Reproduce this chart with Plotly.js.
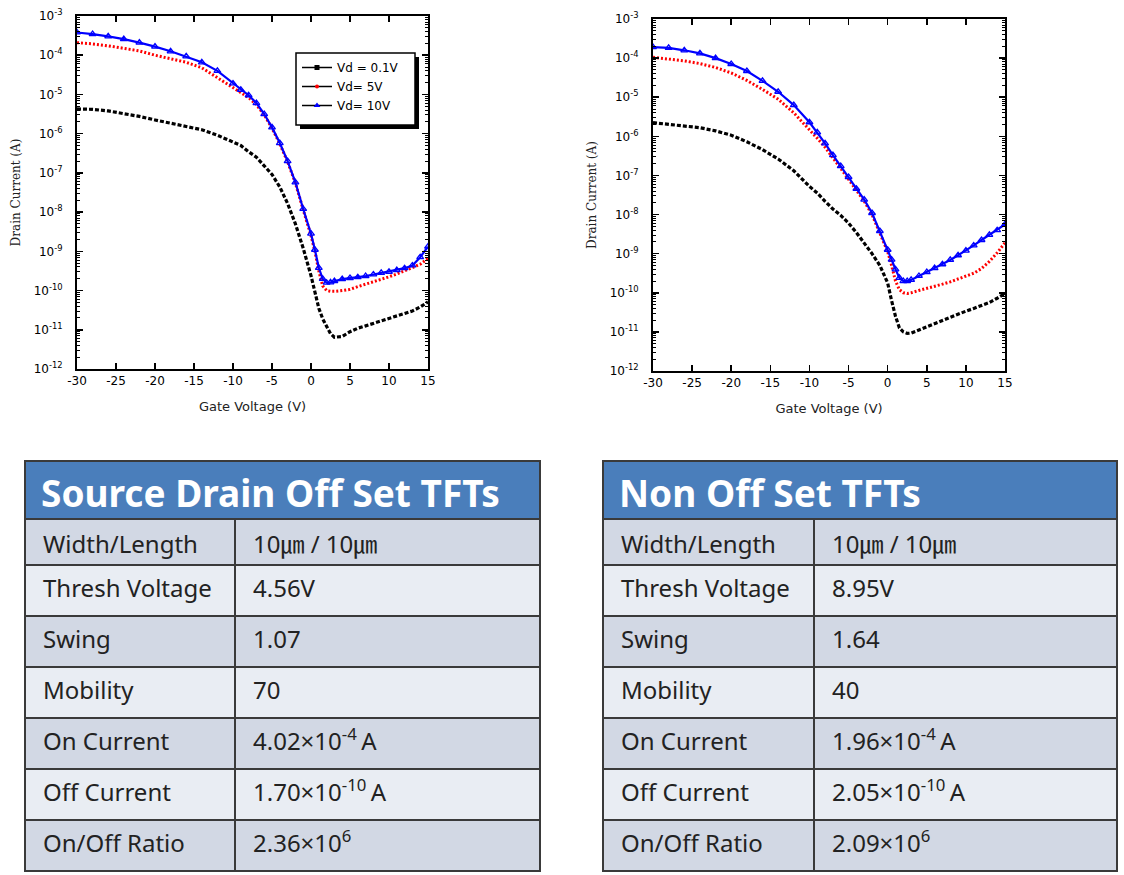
<!DOCTYPE html>
<html>
<head>
<meta charset="utf-8">
<script src="https://cdn.plot.ly/plotly-3.0.1.min.js"></script>
<style>
html,body{margin:0;padding:0;background:#fff;}
#chart{width:1124px;height:875px;}
</style>
</head>
<body>
<div id="chart"></div>
<script>
// ---------- DATA ----------
// Gate voltage grid (V)
const gateV = [-30,-28,-26,-24,-22,-20,-18,-16,-14,-12,-10,-9,-8,-7,-6,-5,-4,-3,-2,-1,0,0.5,1,1.5,2,2.5,3,4,5,6,7,8,9,10,11,12,13,14,15];

// Source Drain Off Set TFTs: log10 of drain current (A)
const sdExpVd01 = [-5.37,-5.38,-5.42,-5.48,-5.56,-5.65,-5.73,-5.81,-5.90,-6.04,-6.20,-6.30,-6.46,-6.60,-6.82,-7.04,-7.36,-7.78,-8.30,-8.92,-9.62,-10.02,-10.45,-10.72,-10.93,-11.10,-11.19,-11.17,-11.05,-10.96,-10.90,-10.84,-10.78,-10.72,-10.66,-10.59,-10.52,-10.42,-10.29];
const sdExpVd5  = [-3.68,-3.71,-3.76,-3.82,-3.89,-4.00,-4.09,-4.18,-4.32,-4.57,-4.84,-4.96,-5.08,-5.26,-5.52,-5.86,-6.26,-6.72,-7.26,-7.94,-8.60,-9.00,-9.50,-9.88,-10.00,-10.02,-10.02,-10.00,-9.97,-9.90,-9.84,-9.78,-9.71,-9.65,-9.58,-9.50,-9.43,-9.33,-9.18];
const sdExpVd10 = [-3.42,-3.46,-3.52,-3.59,-3.68,-3.78,-3.90,-4.03,-4.18,-4.40,-4.72,-4.88,-5.02,-5.22,-5.50,-5.84,-6.24,-6.70,-7.24,-7.92,-8.55,-8.96,-9.42,-9.70,-9.80,-9.79,-9.76,-9.71,-9.68,-9.66,-9.63,-9.59,-9.55,-9.52,-9.48,-9.43,-9.36,-9.15,-8.88];

// Non Off Set TFTs: log10 of drain current (A)
const noExpVd01 = [-5.65,-5.69,-5.72,-5.78,-5.86,-5.97,-6.14,-6.34,-6.58,-6.88,-7.28,-7.45,-7.66,-7.86,-8.02,-8.22,-8.46,-8.72,-9.00,-9.30,-9.75,-10.20,-10.60,-10.90,-11.00,-11.04,-11.03,-10.95,-10.87,-10.78,-10.70,-10.61,-10.54,-10.47,-10.40,-10.33,-10.25,-10.14,-10.02];
const noExpVd5  = [-3.98,-4.02,-4.07,-4.14,-4.24,-4.38,-4.57,-4.80,-5.05,-5.40,-5.82,-6.05,-6.28,-6.54,-6.82,-7.10,-7.38,-7.66,-8.00,-8.46,-8.95,-9.30,-9.70,-9.92,-10.00,-10.02,-10.00,-9.94,-9.89,-9.83,-9.78,-9.72,-9.65,-9.58,-9.50,-9.38,-9.20,-8.98,-8.72];
const noExpVd10 = [-3.72,-3.74,-3.80,-3.88,-4.00,-4.15,-4.33,-4.58,-4.86,-5.20,-5.64,-5.90,-6.18,-6.48,-6.76,-7.04,-7.34,-7.62,-7.96,-8.42,-8.90,-9.15,-9.40,-9.62,-9.70,-9.70,-9.67,-9.57,-9.47,-9.37,-9.27,-9.16,-9.04,-8.92,-8.79,-8.65,-8.52,-8.40,-8.25];

const seriesNames = ['Vd = 0.1V', 'Vd= 5V', 'Vd= 10V'];
const xTickVals = [-30,-25,-20,-15,-10,-5,0,5,10,15];
const xTickText = ['-30','-25','-20','-15','-10','-5','0','5','10','15'];
const yTickExps = [-12,-11,-10,-9,-8,-7,-6,-5,-4,-3];

// Tables
const tableParams = ['Width/Length','Thresh Voltage','Swing','Mobility','On Current','Off Current','On/Off Ratio'];
const sdTitle = 'Source Drain Off Set TFTs';
const sdValues = ['10㎛ / 10㎛','4.56V','1.07','70','4.02×10<sup>-4 </sup>A','1.70×10<sup>-10 </sup>A','2.36×10<sup>6</sup>'];
const noTitle = 'Non Off Set TFTs';
const noValues = ['10㎛ / 10㎛','8.95V','1.64','40','1.96×10<sup>-4 </sup>A','2.05×10<sup>-10 </sup>A','2.09×10<sup>6</sup>'];

// ---------- BUILD ----------
const W = 1124, H = 875;
const px = v => v / W;
const py = v => 1 - v / H;
const toA = arr => arr.map(e => Math.pow(10, e));

const styles = [
  {line: {color: 'black', width: 3.2, dash: '4px,2px'}, mode: 'lines'},
  {line: {color: '#ff0000', width: 3, dash: '2px,2px'}, mode: 'lines'},
  {line: {color: '#0000ff', width: 2.2}, mode: 'lines+markers',
   marker: {symbol: 'triangle-up-open', size: 6, color: '#0000ff', line: {width: 1.3, color: '#0000ff'}}}
];

function curveTraces(exps, xa, ya) {
  return exps.map((e, i) => Object.assign({
    type: 'scatter', x: gateV, y: toA(e), xaxis: xa, yaxis: ya,
    showlegend: false, hoverinfo: 'skip'
  }, JSON.parse(JSON.stringify(styles[i]))));
}

const data = [].concat(
  curveTraces([sdExpVd01, sdExpVd5, sdExpVd10], 'x', 'y'),
  curveTraces([noExpVd01, noExpVd5, noExpVd10], 'x2', 'y2')
);

// legend-only traces (black line with coloured marker)
const legMarkers = [
  {symbol: 'square', size: 5, color: 'black'},
  {symbol: 'circle', size: 4, color: '#ff0000'},
  {symbol: 'triangle-up', size: 6, color: '#0000ff'}
];
seriesNames.forEach((n, i) => {
  data.push({type: 'scatter', x: [null], y: [null], xaxis: 'x', yaxis: 'y',
    name: n, mode: 'lines+markers', line: {color: 'black', width: 1.5},
    marker: legMarkers[i], showlegend: true});
});

// table geometry (px)
const tblTop = 519, headH = 46, rowH = 51;
const tblFont = 'Noto Sans, Open Sans, Noto Sans CJK KR, sans-serif';
function tableTrace(x0, x1, divider) {
  const dark = '#d2d8e4', light = '#e9edf3';
  const bodyFill = [light, dark, light, dark, light, dark];
  const blanks = tableParams.slice(1).map(() => '');
  return {
    type: 'table',
    domain: {x: [px(x0), px(x1)], y: [py(tblTop + headH + 6 * rowH + 2), py(tblTop)]},
    columnwidth: [divider - x0, x1 - divider],
    header: {values: ['', ''], height: headH, fill: {color: dark},
      line: {color: '#3a3a3a', width: 2}},
    cells: {values: [blanks, blanks], height: rowH,
      fill: {color: [bodyFill, bodyFill]}, line: {color: '#3a3a3a', width: 2}}
  };
}
data.push(tableTrace(25, 540, 235));
data.push(tableTrace(603, 1117, 814));

function tableTexts(params, values, x0, divider) {
  const out = [];
  params.forEach((p, i) => {
    const yc = i === 0 ? tblTop + headH / 2 + 1 : tblTop + headH + (i - 0.5) * rowH - 3;
    out.push({xref: 'paper', yref: 'paper', x: px(x0 + 16), y: py(yc), xanchor: 'left', yanchor: 'middle',
      showarrow: false, text: p, font: {family: tblFont, size: 24, color: '#222'}});
    const v = values[i];
    out.push({xref: 'paper', yref: 'paper', x: px(divider + 16), y: py(yc), xanchor: 'left', yanchor: 'middle',
      showarrow: false, text: v, yshift: v.indexOf('<sup>') >= 0 ? 1 : 0,
      font: {family: tblFont, size: 24, color: '#222'}});
  });
  return out;
}

const tickFont = {family: 'DejaVu Sans, Arial, sans-serif', size: 12, color: 'black'};
const minorVals = [];
for (let d = -12; d < -3; d++) for (let k = 2; k <= 9; k++) minorVals.push(k * Math.pow(10, d));

function xAxis(dom, anchor) {
  return {domain: dom, anchor: anchor, range: [-30, 15], tickmode: 'array', tickvals: xTickVals, ticktext: xTickText,
    ticks: 'inside', ticklen: 6, tickwidth: 1.5, tickcolor: 'black', mirror: 'ticks',
    showline: true, linewidth: 2, linecolor: 'black', showgrid: false, zeroline: false,
    tickfont: {family: 'DejaVu Sans, Arial, sans-serif', size: 12, color: 'black'},
    title: {text: 'Gate Voltage (V)', font: {family: 'DejaVu Sans, Arial, sans-serif', size: 13, color: '#222'}, standoff: 14}};
}
function yAxis(dom, anchor) {
  return {domain: dom, anchor: anchor, type: 'log', range: [-12, -3], tickmode: 'array',
    tickvals: yTickExps.map(e => Math.pow(10, e)),
    ticktext: yTickExps.map(e => '10<sup>' + e + '</sup>'),
    ticks: 'inside', ticklen: 6, tickwidth: 1.5, tickcolor: 'black', mirror: 'ticks',
    minor: {tickmode: 'array', tickvals: minorVals, ticks: 'inside', ticklen: 3, tickcolor: 'black', tickwidth: 1, showgrid: false},
    showline: true, linewidth: 2, linecolor: 'black', showgrid: false, zeroline: false,
    tickfont: tickFont, ticklabelstandoff: 10,
    title: {text: 'Drain Current (A)', font: {family: 'DejaVu Serif, serif', size: 12, color: '#222'}, standoff: 10}};
}

// legend box (drawn as shapes)
const legBox = {x0: 296, x1: 415, y0: 53, y1: 125};

const layout = {
  width: W, height: H, margin: {l: 0, r: 0, t: 0, b: 0},
  paper_bgcolor: 'white', plot_bgcolor: 'white', showlegend: true,
  xaxis: xAxis([px(77), px(428)], 'y'),
  yaxis: yAxis([py(369), py(16)], 'x'),
  xaxis2: xAxis([px(653), px(1005)], 'y2'),
  yaxis2: yAxis([py(371), py(19)], 'x2'),
  legend: {x: px(legBox.x0 + 1), y: py(legBox.y0), xanchor: 'left', yanchor: 'top', bgcolor: 'rgba(0,0,0,0)',
    borderwidth: 0, font: {family: 'DejaVu Sans, Arial, sans-serif', size: 12, color: 'black'},
    tracegroupgap: 0, itemwidth: 30},
  shapes: [
    {type: 'rect', xref: 'paper', yref: 'paper', x0: px(legBox.x0 + 4), x1: px(legBox.x1 + 4), y0: py(legBox.y1 + 4), y1: py(legBox.y0 + 4),
     fillcolor: 'black', line: {width: 0}, layer: 'above'},
    {type: 'rect', xref: 'paper', yref: 'paper', x0: px(legBox.x0), x1: px(legBox.x1), y0: py(legBox.y1), y1: py(legBox.y0),
     fillcolor: 'white', line: {color: 'black', width: 1.5}, layer: 'above'},
    {type: 'rect', xref: 'paper', yref: 'paper', x0: px(25), x1: px(540), y0: py(519), y1: py(461),
     fillcolor: '#4a7ebb', line: {color: '#3a3a3a', width: 2}},
    {type: 'rect', xref: 'paper', yref: 'paper', x0: px(603), x1: px(1117), y0: py(519), y1: py(461),
     fillcolor: '#4a7ebb', line: {color: '#3a3a3a', width: 2}}
  ],
  annotations: [
    {xref: 'paper', yref: 'paper', x: px(39), y: py(492), xanchor: 'left', yanchor: 'middle', showarrow: false,
     text: '<b>' + sdTitle + '</b>', font: {family: 'Noto Sans, Open Sans, sans-serif', size: 37, color: 'white'}},
    {xref: 'paper', yref: 'paper', x: px(617), y: py(492), xanchor: 'left', yanchor: 'middle', showarrow: false,
     text: '<b>' + noTitle + '</b>', font: {family: 'Noto Sans, Open Sans, sans-serif', size: 37, color: 'white'}}
  ].concat(tableTexts(tableParams, sdValues, 25, 235), tableTexts(tableParams, noValues, 603, 814))
};

Plotly.newPlot('chart', data, layout, {displayModeBar: false, staticPlot: true});
</script>
</body>
</html>
